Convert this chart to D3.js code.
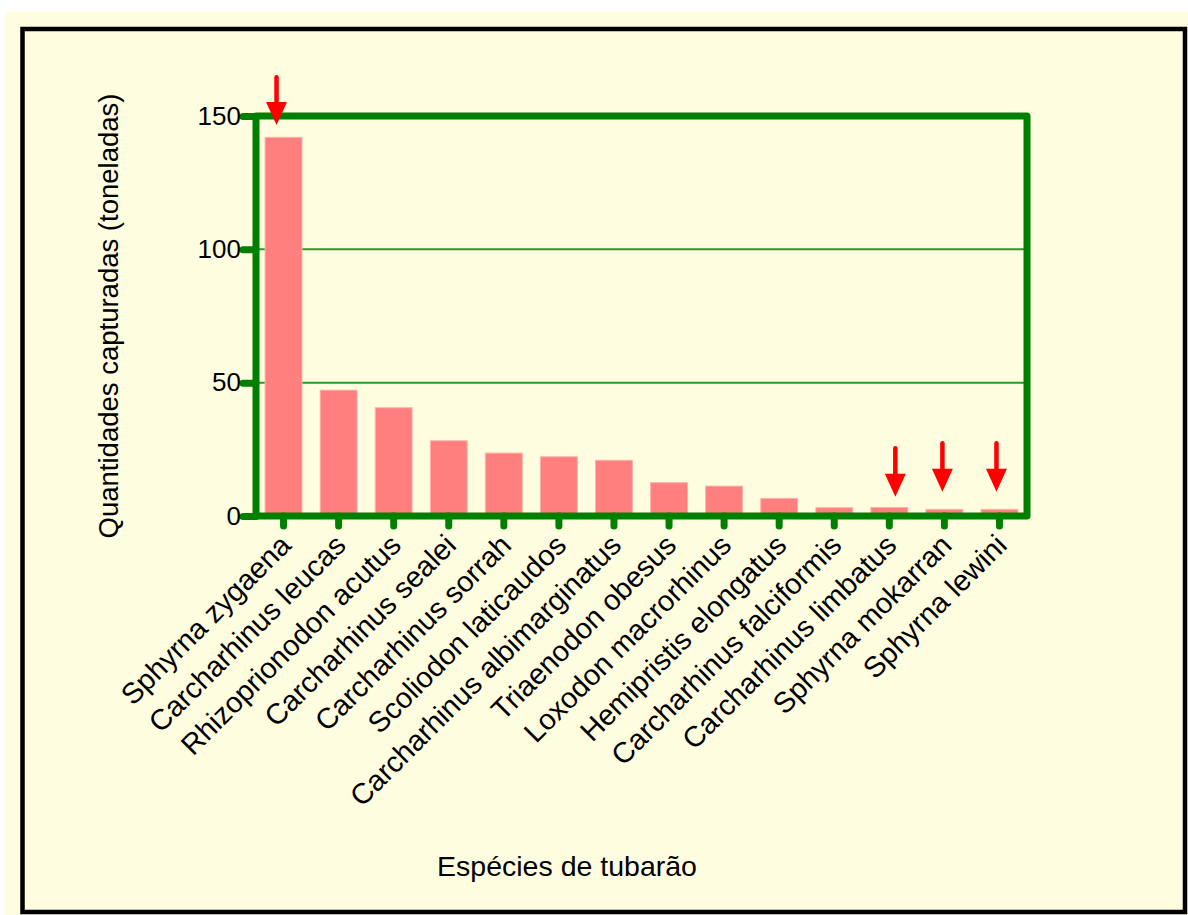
<!DOCTYPE html>
<html>
<head>
<meta charset="utf-8">
<script src="https://cdn.jsdelivr.net/npm/d3@7"></script>
<style>
  html, body { margin: 0; padding: 0; background: #ffffff; }
  svg { display: block; }
  text { font-family: "Liberation Sans", Arial, sans-serif; fill: #000; }
</style>
</head>
<body>
<svg id="chart" width="1188" height="915"></svg>
<script>
const categories = [
  "Sphyrna zygaena", "Carcharhinus leucas", "Rhizoprionodon acutus",
  "Carcharhinus sealei", "Carcharhinus sorrah", "Scoliodon laticaudos",
  "Carcharhinus albimarginatus", "Triaenodon obesus", "Loxodon macrorhinus",
  "Hemipristis elongatus", "Carcharhinus falciformis", "Carcharhinus limbatus",
  "Sphyrna mokarran", "Sphyrna lewini"
];
const values = [142.0, 47.2, 40.6, 28.2, 23.6, 22.2, 20.9, 12.5, 11.2, 6.6, 3.1, 3.2, 2.5, 2.5];
const yTicks = [0, 50, 100, 150];
const gridValues = [50, 100];
// highlighted species (arrows): category, arrow tip value, arrow tail value
const arrowCats = ["Sphyrna zygaena", "Carcharhinus limbatus", "Sphyrna mokarran", "Sphyrna lewini"];
const arrowTips = [146.6, 7.2, 9.1, 9.1];
const arrowTails = [164.5, 25.4, 27.3, 27.3];
const arrowShift = [-7, 6, -2, -3];
const yTitle = "Quantidades capturadas (toneladas)";
const xTitle = "Espécies de tubarão";

const svg = d3.select("#chart");
const W = 1188, H = 915;

// outer panel
svg.append("rect").attr("x", 5).attr("y", 12).attr("width", W - 5).attr("height", H - 12).attr("fill", "#fffde0");
svg.append("rect").attr("x", 22.5).attr("y", 29).attr("width", 1185 - 22.5).attr("height", 912 - 29)
  .attr("fill", "none").attr("stroke", "#000").attr("stroke-width", 4.5);

const plot = { left: 256, right: 1027, top: 116, bottom: 516 };

const x = d3.scaleBand().domain(categories).range([plot.left, plot.right]).paddingInner(0.33).paddingOuter(0.165);
const y = d3.scaleLinear().domain([0, 150]).range([plot.bottom, plot.top]);
const green = "#008000";

// gridlines
svg.append("g").selectAll("line").data(gridValues).join("line")
  .attr("x1", plot.left).attr("x2", plot.right)
  .attr("y1", d => y(d)).attr("y2", d => y(d))
  .attr("stroke", "#2a9a2a").attr("stroke-width", 2);

// bars
svg.append("g").selectAll("rect").data(values).join("rect")
  .attr("x", (d, i) => x(categories[i]))
  .attr("y", d => y(d))
  .attr("width", x.bandwidth())
  .attr("height", d => y(0) - y(d))
  .attr("fill", "#ff7f7f")
  .attr("stroke", "#ffb3a8").attr("stroke-width", 1);

// y axis ticks and labels
const yAxis = d3.axisLeft(y).tickValues(yTicks).tickSize(13).tickPadding(2).tickFormat(d3.format("d"));
const gy = svg.append("g").attr("transform", `translate(${plot.left},0)`).call(yAxis);
gy.select(".domain").remove();
gy.selectAll(".tick line").attr("stroke", green).attr("stroke-width", 7).attr("stroke-linecap", "round");
gy.selectAll(".tick text").attr("font-size", 26).attr("font-family", "Liberation Sans, Arial, sans-serif").attr("fill", "#000");

// x axis ticks and labels
const xAxis = d3.axisBottom(x).tickSize(10).tickPadding(6);
const gx = svg.append("g").attr("transform", `translate(0,${plot.bottom})`).call(xAxis);
gx.select(".domain").remove();
gx.selectAll(".tick line").attr("stroke", green).attr("stroke-width", 7).attr("stroke-linecap", "round");
gx.selectAll(".tick text")
  .attr("font-size", 29).attr("font-family", "Liberation Sans, Arial, sans-serif").attr("fill", "#000")
  .attr("text-anchor", "end")
  .attr("dy", null).attr("y", 0).attr("x", 0)
  .attr("transform", "translate(9,31) rotate(-45)");

// green frame
svg.append("rect").attr("x", plot.left).attr("y", plot.top)
  .attr("width", plot.right - plot.left).attr("height", plot.bottom - plot.top)
  .attr("fill", "none").attr("stroke", green).attr("stroke-width", 7).attr("stroke-linejoin", "round");

// arrows
const ag = svg.append("g");
arrowCats.forEach((c, i) => {
  const cx = x(c) + x.bandwidth() / 2 + arrowShift[i];
  const tip = y(arrowTips[i]);
  const tail = y(arrowTails[i]);
  const headLen = 23, headW = 10.5;
  ag.append("line").attr("x1", cx).attr("x2", cx).attr("y1", tail).attr("y2", tip - headLen + 2)
    .attr("stroke", "#ff0000").attr("stroke-width", 4.5).attr("stroke-linecap", "round");
  ag.append("path")
    .attr("d", `M${cx - headW},${tip - headLen} L${cx + headW},${tip - headLen} L${cx},${tip} Z`)
    .attr("fill", "#ff0000");
});

// titles
svg.append("text").attr("transform", "translate(118,316) rotate(-90)")
  .attr("text-anchor", "middle").attr("font-size", 27.5).text(yTitle);
svg.append("text").attr("x", 567).attr("y", 876)
  .attr("text-anchor", "middle").attr("font-size", 28.5).text(xTitle);
</script>
</body>
</html>
